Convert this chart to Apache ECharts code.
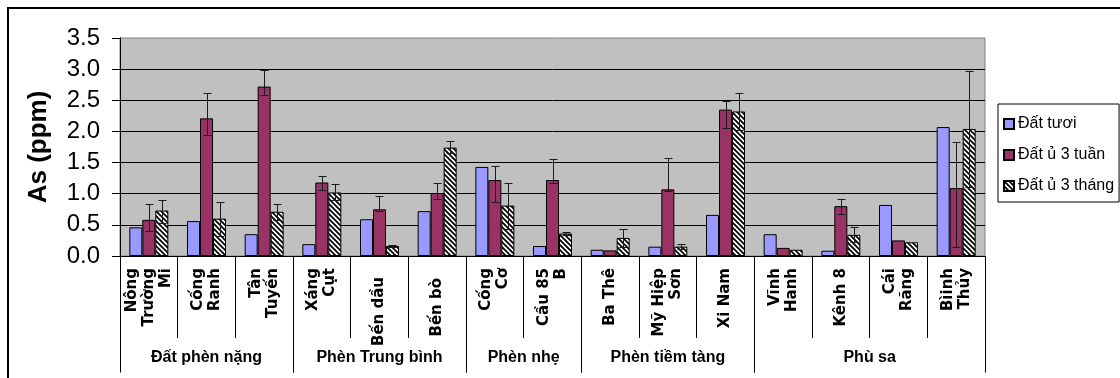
<!DOCTYPE html>
<html>
<head>
<meta charset="utf-8">
<style>
html,body{margin:0;padding:0;background:#fff;}
#chart{width:1120px;height:378px;}
</style>
<script src="https://cdn.jsdelivr.net/npm/echarts@6/dist/echarts.min.js"></script>
</head>
<body>
<div id="chart"></div>
<script>
// ---- data ----
const categories = ['Nông\nTrường\nMi', 'Cống\nRanh', 'Tân\nTuyến', 'Xáng\nCụt', 'Bến dầu', 'Bến bò',
  'Cống\nCơ', 'Cầu 85\nB', 'Ba Thê', 'Mỹ Hiệp\nSơn', 'Xi Nam', 'Vĩnh\nHanh', 'Kênh 8', 'Cái\nRăng', 'Bìinh\nThủy'];
const groupNames = ['Đất phèn nặng', 'Phèn Trung bình', 'Phèn nhẹ', 'Phèn tiềm tàng', 'Phù sa'];
const groupSizes = [3, 3, 2, 3, 4];
const seriesNames = ['Đất tươi', 'Đất ủ 3 tuần', 'Đất ủ 3 tháng'];
const yTicks = [0, 0.5, 1.0, 1.5, 2.0, 2.5, 3.0, 3.5];

const datTuoi = [0.46, 0.56, 0.35, 0.19, 0.59, 0.72, 1.43, 0.16, 0.10, 0.15, 0.66, 0.35, 0.085, 0.82, 2.07];
const u3Tuan  = [0.58, 2.21, 2.72, 1.18, 0.75, 1.01, 1.22, 1.22, 0.09, 1.07, 2.35, 0.13, 0.80, 0.25, 1.09];
const u3Thang = [0.73, 0.60, 0.71, 1.02, 0.16, 1.74, 0.81, 0.36, 0.29, 0.15, 2.32, 0.10, 0.34, 0.22, 2.04];

// error bar bounds (high / low); null = no error bar
const u3TuanHi  = [0.83, 2.62, 2.99, 1.29, 0.96, 1.17, 1.44, 1.55, null, 1.58, 2.49, null, 0.91, null, 1.83];
const u3TuanLo  = [0.40, 1.94, 2.59, 1.06, 0.73, 0.92, 0.86, 1.17, null, 1.04, 2.05, null, 0.68, null, 0.15];
const u3ThangHi = [0.90, 0.86, 0.84, 1.15, 0.18, 1.84, 1.17, 0.39, 0.43, 0.19, 2.62, null, 0.46, null, 2.97];
const u3ThangLo = [0.53, 0.32, 0.58, 0.90, 0.14, 1.65, 0.44, 0.33, 0.15, 0.11, 2.02, null, 0.22, null, 1.11];

// ---- styling / build ----
const FONT = "'Liberation Sans', Arial, sans-serif";
const BAR_W = 13;
// labels that sit lower in their cell in the original (extra end padding)
const labelEndPad = { 4: 9, 5: 10 };

function makeHatch() {
  const c = document.createElement('canvas');
  c.width = 5; c.height = 5;
  const ctx = c.getContext('2d');
  ctx.fillStyle = '#ffffff';
  ctx.fillRect(0, 0, 5, 5);
  ctx.strokeStyle = '#000000';
  ctx.lineWidth = 1.8;
  ctx.beginPath();
  ctx.moveTo(-1, -1); ctx.lineTo(6, 6);
  ctx.moveTo(-1, 4); ctx.lineTo(1, 6);
  ctx.moveTo(4, -1); ctx.lineTo(6, 1);
  ctx.stroke();
  return c;
}
const hatch = { image: makeHatch(), repeat: 'repeat' };

function errData(hi, lo) {
  const out = [];
  hi.forEach((h, i) => { if (h != null && lo[i] != null) out.push([i, lo[i], h]); });
  return out;
}

function errSeries(hi, lo, slot) {
  return {
    type: 'custom',
    z: 10,
    silent: true,
    clip: false,
    encode: { x: 0, y: [1, 2] },
    data: errData(hi, lo),
    renderItem: function (params, api) {
      const i = api.value(0);
      const pLo = api.coord([i, api.value(1)]);
      const pHi = api.coord([i, api.value(2)]);
      const x = Math.round(pHi[0] + (slot - 1) * BAR_W) + 0.5;
      const yH = Math.round(pHi[1]) + 0.5, yL = Math.round(pLo[1]) + 0.5;
      const st = { stroke: '#1a1a1a', lineWidth: 1 };
      return {
        type: 'group',
        children: [
          { type: 'line', shape: { x1: x, y1: yH, x2: x, y2: yL }, style: st },
          { type: 'line', shape: { x1: x - 4, y1: yH, x2: x + 4, y2: yH }, style: st },
          { type: 'line', shape: { x1: x - 4, y1: yL, x2: x + 4, y2: yL }, style: st }
        ]
      };
    }
  };
}

const groupData = [];
let start = 0;
groupSizes.forEach((n) => { groupData.push([start, start + n, 0]); start += n; });

const catItems = categories.map((c, i) => labelEndPad[i]
  ? { value: c, textStyle: { padding: [0, labelEndPad[i], 0, 0] } }
  : c);

const chart = echarts.init(document.getElementById('chart'), null, { renderer: 'canvas' });

const option = {
  animation: false,
  backgroundColor: '#ffffff',
  textStyle: { fontFamily: FONT },
  graphic: [{
    type: 'rect',
    shape: { x: 8, y: 8, width: 1200, height: 500 },
    style: { fill: 'none', stroke: '#000', lineWidth: 2 },
    silent: true
  }],
  grid: {
    left: 120, right: 135, top: 38, bottom: 122,
    show: true, backgroundColor: '#c0c0c0', borderColor: '#808080', borderWidth: 1
  },
  legend: {
    orient: 'vertical',
    left: 998, top: 104,
    width: 119,
    padding: [12, 5, 8, 5],
    itemGap: 15,
    itemWidth: 10, itemHeight: 10,
    icon: 'rect',
    backgroundColor: '#ffffff',
    borderColor: '#000000',
    borderWidth: 1,
    borderRadius: 0,
    textStyle: { fontFamily: FONT, fontSize: 16, color: '#000', padding: [0, 0, 0, -1] },
    data: seriesNames
  },
  xAxis: [{
    type: 'category',
    data: catItems,
    boundaryGap: true,
    axisLine: { show: true, lineStyle: { color: '#000', width: 1 } },
    axisTick: { show: true, interval: 0, length: 82, lineStyle: { color: '#000' } },
    axisLabel: {
      interval: 0, rotate: 90, margin: 12,
      fontFamily: "'DejaVu Sans', sans-serif", fontWeight: 'bold', fontSize: 15,
      lineHeight: 17, color: '#000'
    },
    splitLine: { show: false }
  }, {
    type: 'value', min: 0, max: 15, show: false
  }],
  yAxis: {
    type: 'value',
    min: yTicks[0], max: yTicks[yTicks.length - 1], interval: 0.5,
    name: 'As (ppm)', nameLocation: 'middle', nameGap: 68,
    nameTextStyle: { fontFamily: FONT, fontWeight: 'bold', fontSize: 26, color: '#000' },
    axisLine: { show: true, lineStyle: { color: '#000' } },
    axisTick: { show: true, length: 8, lineStyle: { color: '#000' } },
    axisLabel: {
      margin: 20, fontFamily: FONT, fontSize: 24, color: '#000',
      formatter: (v) => v.toFixed(1)
    },
    splitLine: { show: true, showMaxLine: false, lineStyle: { color: '#000', width: 1 } }
  },
  series: [
    {
      name: seriesNames[0], type: 'bar', data: datTuoi, barWidth: BAR_W, barGap: '0%',
      itemStyle: { color: '#9999ff', borderColor: '#000', borderWidth: 1 }
    },
    {
      name: seriesNames[1], type: 'bar', data: u3Tuan, barWidth: BAR_W, barGap: '0%',
      itemStyle: { color: '#993366', borderColor: '#000', borderWidth: 1 }
    },
    {
      name: seriesNames[2], type: 'bar', data: u3Thang, barWidth: BAR_W, barGap: '0%',
      itemStyle: { color: hatch, borderColor: '#000', borderWidth: 1 }
    },
    errSeries(u3TuanHi, u3TuanLo, 1),
    errSeries(u3ThangHi, u3ThangLo, 2),
    {
      type: 'custom',
      xAxisIndex: 1,
      yAxisIndex: 0,
      silent: true,
      clip: false,
      encode: { x: [0, 1], y: 2 },
      data: groupData,
      renderItem: function (params, api) {
        const s = api.coord([api.value(0), 0]);
        const e = api.coord([api.value(1), 0]);
        const y0 = Math.round(s[1]) + 0.5;
        const xs = Math.round(s[0]) + 0.5, xe = Math.round(e[0]) + 0.5;
        const st = { stroke: '#000', lineWidth: 1 };
        return {
          type: 'group',
          children: [
            { type: 'line', shape: { x1: xs, y1: y0, x2: xs, y2: y0 + 116 }, style: st },
            { type: 'line', shape: { x1: xe, y1: y0, x2: xe, y2: y0 + 116 }, style: st },
            {
              type: 'text',
              style: {
                x: (s[0] + e[0]) / 2, y: y0 + 101,
                text: groupNames[params.dataIndex],
                textAlign: 'center', textVerticalAlign: 'middle',
                font: "bold 16px 'Liberation Sans', Arial, sans-serif",
                fill: '#000'
              }
            }
          ]
        };
      }
    }
  ]
};
chart.setOption(option);
</script>
</body>
</html>
